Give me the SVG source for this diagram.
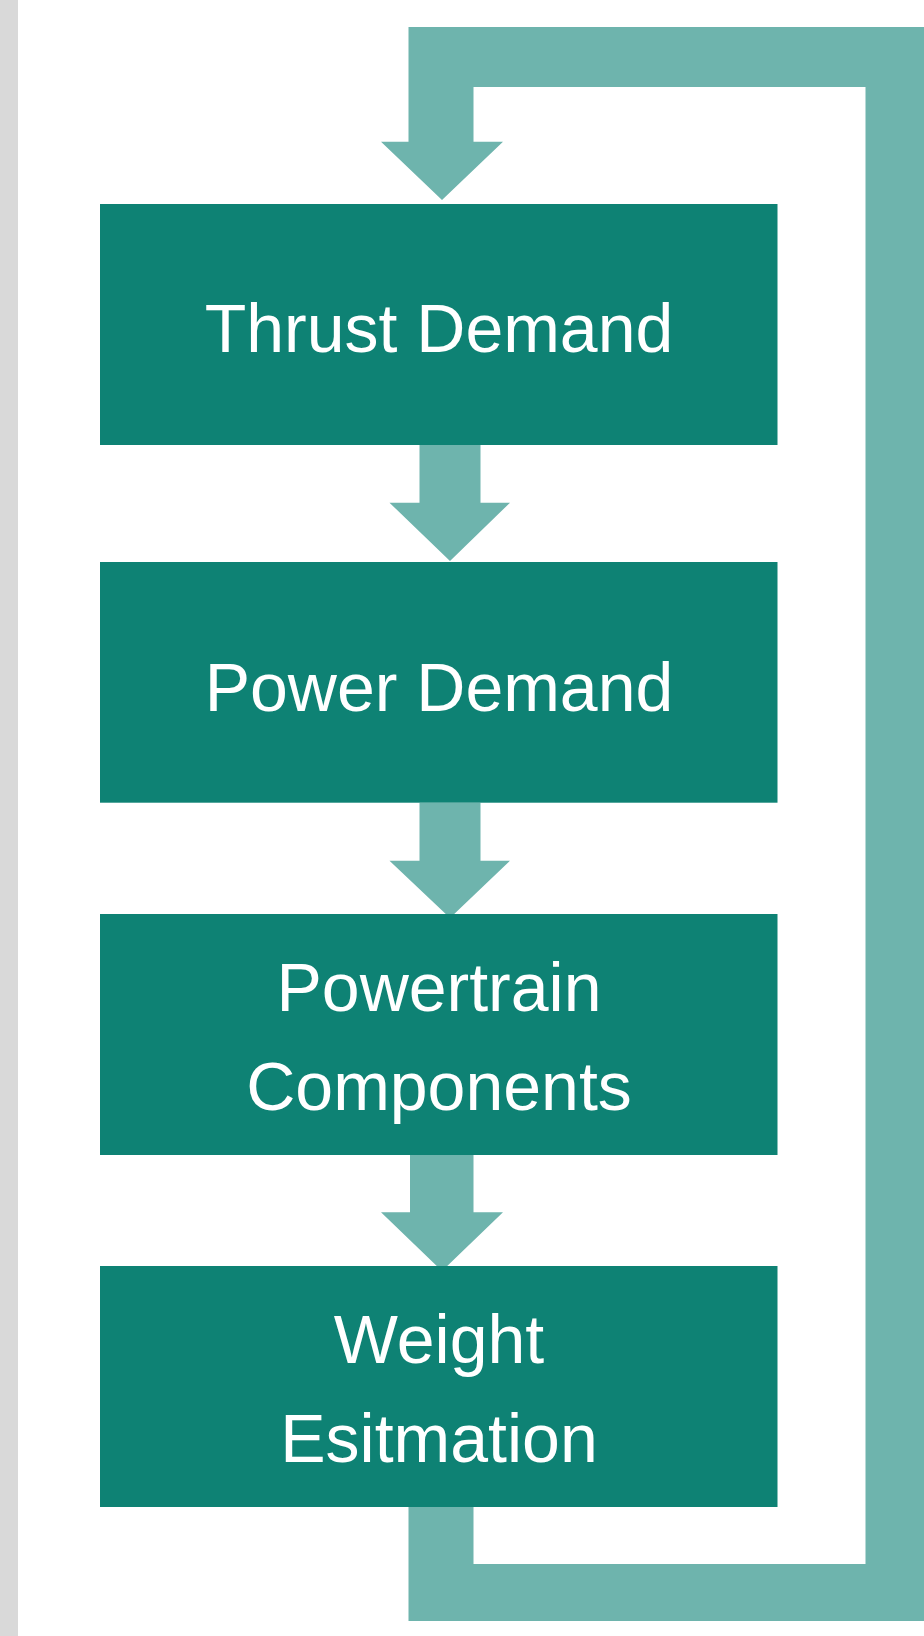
<svg xmlns="http://www.w3.org/2000/svg" width="924" height="1636" viewBox="0 0 924 1636">
  <style>
    .box { fill: #0E8274; }
    .flow { fill: #6EB4AD; }
    .label { font-family: "Liberation Sans", Arial, sans-serif; font-size: 68px; fill: #FFFFFF; text-anchor: middle; }
  </style>

  <!-- page background and left margin strip -->
  <rect x="0" y="0" width="924" height="1636" fill="#FFFFFF"/>
  <rect x="0" y="0" width="18" height="1636" fill="#D9D9D9"/>

  <!-- block arrows between steps, plus the feedback loop -->
  <g id="connectors">
    <!-- feedback loop: from Weight Esitmation back up to Thrust Demand -->
    <path class="flow" d="M408.5,1507 V1621 H924 V27 H408.5 V141.7 H381 L442,200 L503,141.7 H473.5 V87 H865.5 V1564 H473.5 V1507 Z"/>
    <!-- Thrust Demand to Power Demand -->
    <path class="flow" d="M419.5,445 H480.5 V502.7 H510 L450,561 L389.5,502.7 H419.5 Z"/>
    <!-- Power Demand to Powertrain Components -->
    <path class="flow" d="M419.5,802.7 H480.5 V860.7 H510 L450,918 L389.5,860.7 H419.5 Z"/>
    <!-- Powertrain Components to Weight Esitmation -->
    <path class="flow" d="M410,1155 H473.5 V1212.3 H503 L442,1271 L381,1212.3 H410 Z"/>
  </g>

  <g id="thrust-demand">
    <rect class="box" x="100" y="204" width="677.5" height="241"/>
    <text class="label" x="439" y="352">Thrust Demand</text>
  </g>

  <g id="power-demand">
    <rect class="box" x="100" y="562" width="677.5" height="240.7"/>
    <text class="label" x="439" y="711">Power Demand</text>
  </g>

  <g id="powertrain-components">
    <rect class="box" x="100" y="914" width="677.5" height="241"/>
    <text class="label" x="439" y="1011">Powertrain</text>
    <text class="label" x="439" y="1110">Components</text>
  </g>

  <g id="weight-estimation">
    <rect class="box" x="100" y="1266" width="677.5" height="241"/>
    <text class="label" x="439" y="1363">Weight</text>
    <text class="label" x="439" y="1462">Esitmation</text>
  </g>
</svg>
